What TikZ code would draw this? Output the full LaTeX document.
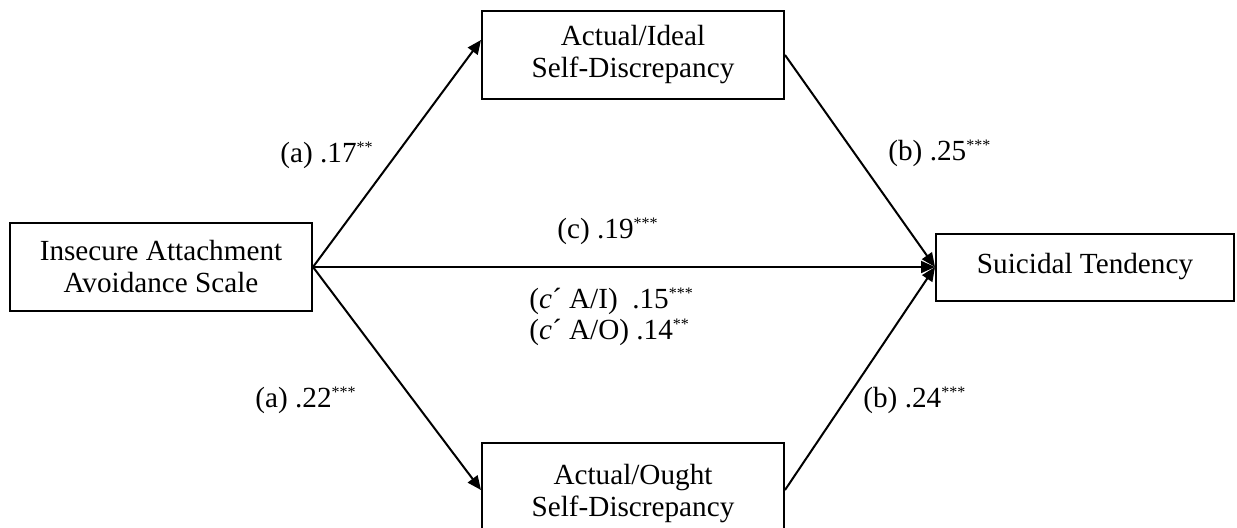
\documentclass[tikz,border=0pt]{standalone}
\usepackage{fontspec}
\setmainfont{Liberation Serif}
\usetikzlibrary{arrows.meta,calc}
\newcommand\sigstars[1]{\raisebox{5pt}{\fontsize{8pt}{8pt}\selectfont #1}}
\begin{document}
\begin{tikzpicture}[x=0.5pt,y=-0.5pt,
  every node/.style={font=\fontsize{14.6pt}{16pt}\selectfont, inner sep=0pt},
  box/.style={draw, line width=1pt, align=center},
  lab/.style={anchor=base west},
  conn/.style={line width=1pt, -{Triangle[length=7pt,width=6pt]}},
  plain/.style={line width=1pt}]
\useasboundingbox (0,0) rectangle (1237,527);
\node[box, minimum width=151pt, minimum height=44pt] (ins) at (161,267) {Insecure Attachment\\Avoidance Scale};
\node[box, minimum width=151pt, minimum height=44pt] (ideal) at (633,55) {Actual/Ideal\\Self-Discrepancy};
\node[box, minimum width=151pt, minimum height=47pt, text depth=0pt] (ought) at (633,490) {Actual/Ought\\Self-Discrepancy};
\node[box, minimum width=149pt, minimum height=33.5pt] (sui) at (1085,267) {Suicidal Tendency};
\draw[conn] (ins.east) -- ($(ideal.west)+(0,-15)$);
\draw[conn] (ins.east) -- (ought.west);
\draw[conn] (ins.east) -- (sui.west);
\draw[conn] (ideal.east) -- (sui.west);
\draw[conn] (ought.east) -- (sui.west);
\node[lab] (la1) at (280,162) {(a) .17\sigstars{**}};
\node[lab] (lb1) at (888,160) {(b) .25\sigstars{***}};
\node[lab] (lc) at (557,238) {(c) .19\sigstars{***}};
\node[lab] (lc1) at (529,308) {(\textit{c}´ A/I)~~.15\sigstars{***}};
\node[lab] (lc2) at (529,339) {(\textit{c}´ A/O) .14\sigstars{**}};
\node[lab] (la2) at (255,407) {(a) .22\sigstars{***}};
\node[lab] (lb2) at (863,407) {(b) .24\sigstars{***}};
\end{tikzpicture}
\end{document}
